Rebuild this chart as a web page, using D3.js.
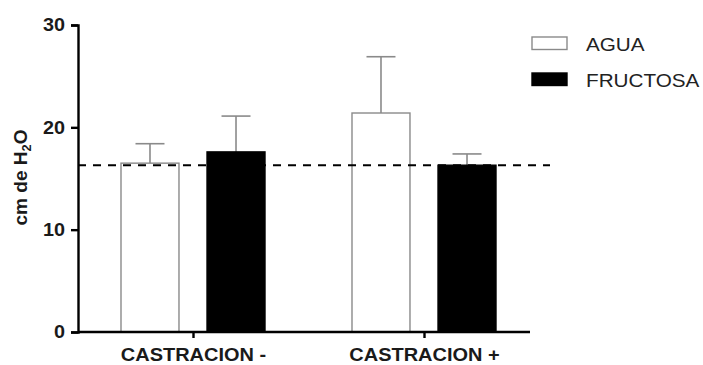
<!DOCTYPE html>
<html>
<head>
<meta charset="utf-8">
<script src="https://cdn.jsdelivr.net/npm/d3@7"></script>
<style>
  body { margin: 0; background: #fff; }
  text { font-family: 'Liberation Sans', Arial, sans-serif; }
</style>
</head>
<body>
<div id="chart"></div>
<script>
const groups = ['CASTRACION -', 'CASTRACION +'];
const series = ['AGUA', 'FRUCTOSA'];
const means = [[16.5, 17.6], [21.4, 16.3]];
const errors = [[1.9, 3.5], [5.5, 1.1]];
const yTicks = [0, 10, 20, 30];
const refLine = 16.3;

const width = 703, height = 365;
const margin = { left: 78, top: 25, right: 173, bottom: 33 };

const svg = d3.select('#chart').append('svg')
  .attr('width', width)
  .attr('height', height);

const y = d3.scaleLinear().domain([0, 30]).range([height - margin.bottom, margin.top]);
const x0 = d3.scalePoint().domain(groups).range([193, 424]);
const x1 = d3.scaleBand().domain(series).range([-72, 72]).paddingInner(0.326).paddingOuter(0);
const fill = d3.scaleOrdinal().domain(series).range(['#ffffff', '#000000']);
const stroke = d3.scaleOrdinal().domain(series).range(['#8a8a8a', '#000000']);

const rows = [];
groups.forEach((g, i) => {
  series.forEach((s, j) => {
    rows.push({ group: g, series: s, mean: means[i][j], err: errors[i][j] });
  });
});

// bars with upper error bars
const bar = svg.append('g').selectAll('g')
  .data(rows)
  .enter().append('g');

bar.append('line')
  .attr('x1', d => x0(d.group) + x1(d.series) + x1.bandwidth() / 2)
  .attr('x2', d => x0(d.group) + x1(d.series) + x1.bandwidth() / 2)
  .attr('y1', d => y(d.mean))
  .attr('y2', d => y(d.mean + d.err))
  .attr('stroke', '#8a8a8a')
  .attr('stroke-width', 1.6);

bar.append('line')
  .attr('x1', d => x0(d.group) + x1(d.series) + x1.bandwidth() / 4)
  .attr('x2', d => x0(d.group) + x1(d.series) + x1.bandwidth() * 3 / 4)
  .attr('y1', d => y(d.mean + d.err))
  .attr('y2', d => y(d.mean + d.err))
  .attr('stroke', '#8a8a8a')
  .attr('stroke-width', 1.6);

bar.append('rect')
  .attr('x', d => x0(d.group) + x1(d.series))
  .attr('y', d => y(d.mean))
  .attr('width', x1.bandwidth())
  .attr('height', d => y(0) - y(d.mean))
  .attr('fill', d => fill(d.series))
  .attr('stroke', d => stroke(d.series))
  .attr('stroke-width', 1.4);

// reference line
svg.append('line')
  .attr('x1', margin.left)
  .attr('x2', 550)
  .attr('y1', y(refLine))
  .attr('y2', y(refLine))
  .attr('stroke', '#000')
  .attr('stroke-width', 2)
  .attr('stroke-dasharray', '8,7');

// axes
const yAxis = svg.append('g')
  .attr('transform', `translate(${margin.left},0)`)
  .call(d3.axisLeft(y).tickValues(yTicks).tickSize(7).tickFormat(d3.format('d')));
yAxis.select('.domain').attr('stroke-width', 2.4);
yAxis.selectAll('.tick line').attr('stroke-width', 2.4);
yAxis.selectAll('text')
  .attr('x', 0)
  .attr('transform', 'translate(-13,0) scale(1.1,1)')
  .attr('font-size', 18)
  .attr('font-weight', 'bold')
  .attr('fill', '#1a1a1a')
  .attr('font-family', "'Liberation Sans', Arial, sans-serif");

const xAxis = svg.append('g')
  .attr('transform', `translate(0,${y(0)})`)
  .call(d3.axisBottom(x0).tickSize(6).tickSizeOuter(0));
xAxis.select('.domain').attr('d', `M${margin.left},0H530`).attr('stroke-width', 2.4);
xAxis.selectAll('.tick line').attr('stroke-width', 2.4);
xAxis.selectAll('text')
  .attr('y', 0)
  .attr('dy', null)
  .attr('transform', 'translate(0,29) scale(1.08,1)')
  .attr('font-size', 18.5)
  .attr('font-weight', 'bold')
  .attr('fill', '#1a1a1a')
  .attr('font-family', "'Liberation Sans', Arial, sans-serif");

// y title
const yTitle = svg.append('text')
  .attr('transform', `translate(27,${(y(0) + y(30)) / 2 - 1}) rotate(-90) scale(1.06,1)`)
  .attr('text-anchor', 'middle')
  .attr('font-size', 18)
  .attr('font-weight', 'bold')
  .attr('fill', '#1a1a1a');
yTitle.append('tspan').text('cm de H');
yTitle.append('tspan').text('2').attr('font-size', 12).attr('dy', 4);
yTitle.append('tspan').text('O').attr('dy', -4);

// legend
const legend = svg.append('g').selectAll('g')
  .data(series)
  .enter().append('g')
  .attr('transform', (d, i) => `translate(532,${37 + i * 36})`);
legend.append('rect')
  .attr('width', 35)
  .attr('height', 12.5)
  .attr('fill', d => fill(d))
  .attr('stroke', d => stroke(d))
  .attr('stroke-width', 1.4);
legend.append('text')
  .attr('transform', 'translate(54,14) scale(1.15,1)')
  .attr('font-size', 18)
  .attr('fill', '#222')
  .text(d => d);
</script>
</body>
</html>
